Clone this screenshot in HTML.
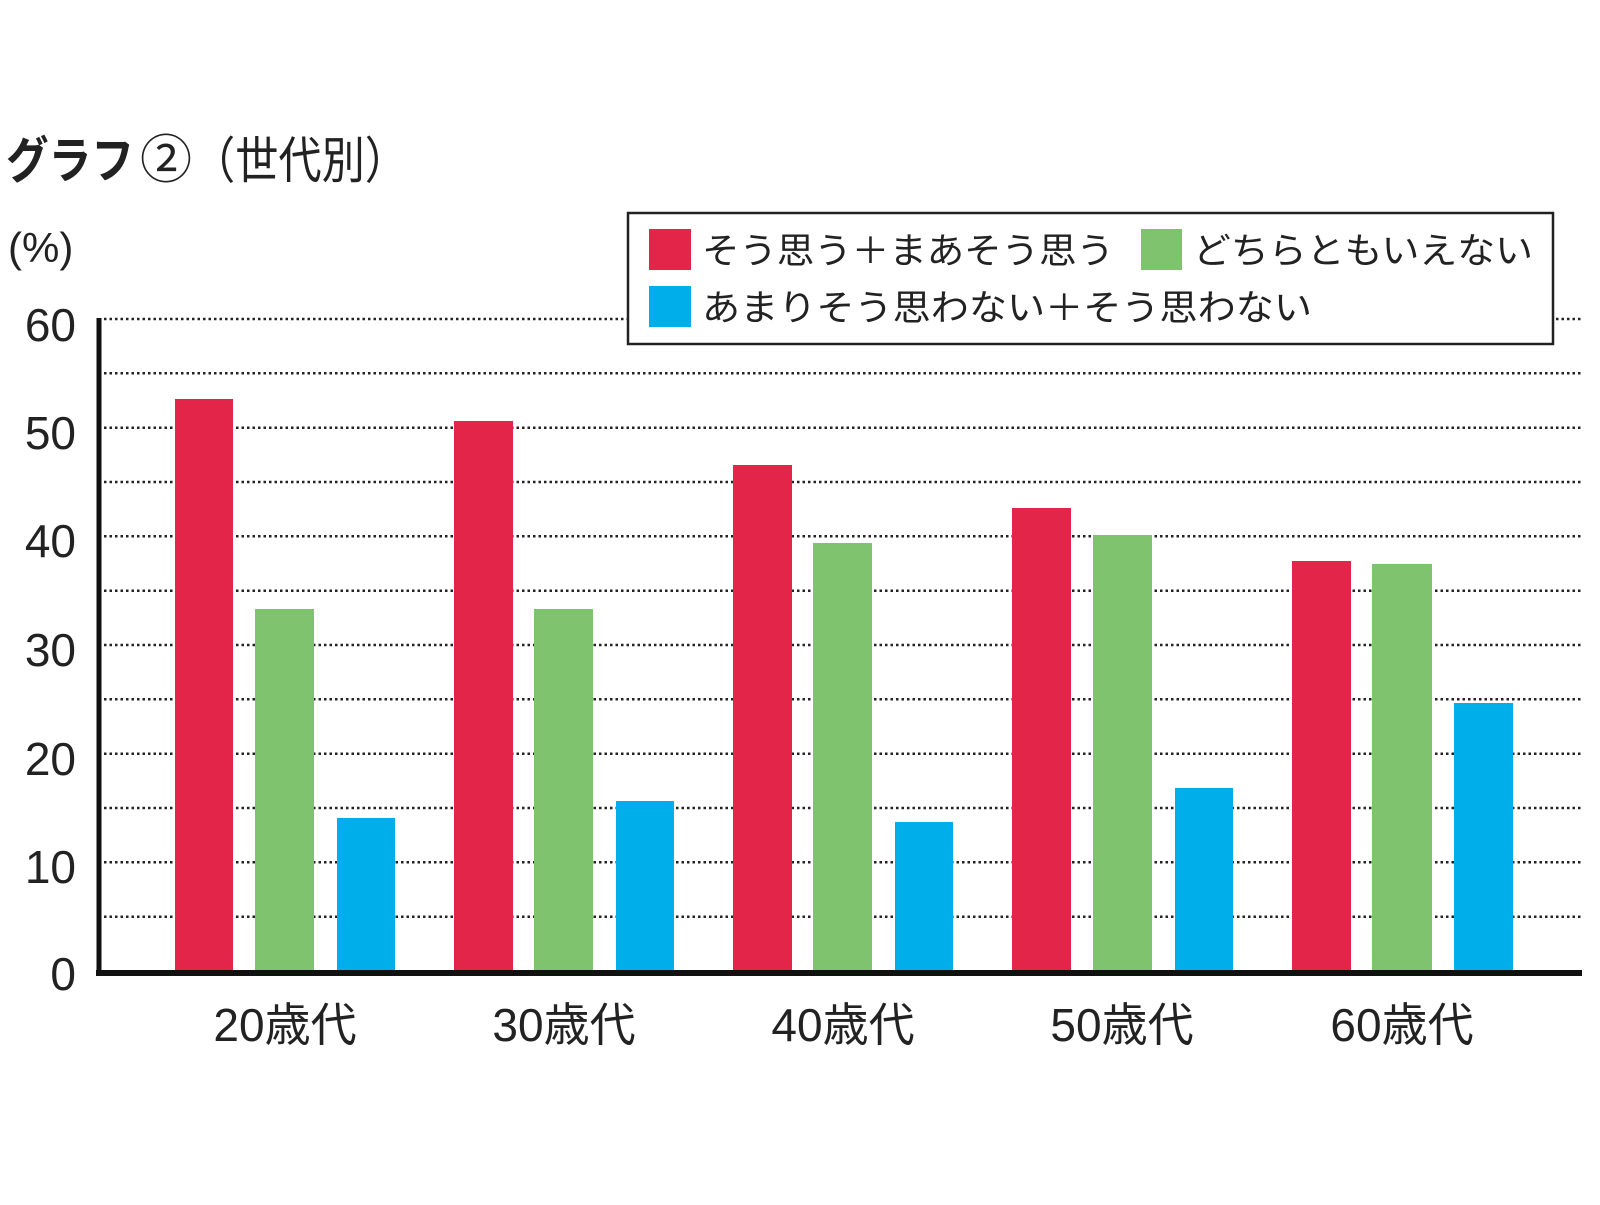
<!DOCTYPE html>
<html><head><meta charset="utf-8"><style>
body{margin:0;background:#fff;width:1600px;height:1200px;overflow:hidden}
text{font-family:"Liberation Sans","Noto Sans CJK JP",sans-serif;fill:#222}
</style></head><body>
<svg width="1600" height="1200" xmlns="http://www.w3.org/2000/svg">
<text x="6" y="178" font-size="50" font-weight="bold" textLength="128" lengthAdjust="spacingAndGlyphs" style="font-family:'Noto Sans CJK JP',sans-serif">グラフ</text>
<text x="140" y="178" font-size="52" style="font-family:'Noto Sans CJK JP',sans-serif">②</text>
<text x="192" y="178" font-size="50" textLength="216" lengthAdjust="spacingAndGlyphs" style="font-family:'Noto Sans CJK JP',sans-serif">（世代別）</text>
<text x="8" y="262" font-size="42">(%)</text>
<g stroke="#222" stroke-width="2.5" stroke-dasharray="2.5 3">
<line x1="104" x2="1582" y1="319" y2="319"/>
<line x1="104" x2="1582" y1="373.3" y2="373.3"/>
<line x1="104" x2="1582" y1="427.7" y2="427.7"/>
<line x1="104" x2="1582" y1="482" y2="482"/>
<line x1="104" x2="1582" y1="536.3" y2="536.3"/>
<line x1="104" x2="1582" y1="590.7" y2="590.7"/>
<line x1="104" x2="1582" y1="645" y2="645"/>
<line x1="104" x2="1582" y1="699.3" y2="699.3"/>
<line x1="104" x2="1582" y1="753.7" y2="753.7"/>
<line x1="104" x2="1582" y1="808" y2="808"/>
<line x1="104" x2="1582" y1="862.3" y2="862.3"/>
<line x1="104" x2="1582" y1="916.7" y2="916.7"/>
</g>
<g font-size="46" text-anchor="end">
<text x="76" y="341">60</text><text x="76" y="449">50</text><text x="76" y="557">40</text>
<text x="76" y="666">30</text><text x="76" y="775">20</text><text x="76" y="883">10</text><text x="76" y="990">0</text>
</g>
<g>
<rect x="175" y="399" width="58" height="572" fill="#e3254a"/>
<rect x="255" y="609" width="59" height="362" fill="#80c36e"/>
<rect x="337" y="818" width="58" height="153" fill="#00aeea"/>
<rect x="454" y="421" width="59" height="550" fill="#e3254a"/>
<rect x="534" y="609" width="59" height="362" fill="#80c36e"/>
<rect x="616" y="801" width="58" height="170" fill="#00aeea"/>
<rect x="733" y="465" width="59" height="506" fill="#e3254a"/>
<rect x="813" y="543" width="59" height="428" fill="#80c36e"/>
<rect x="895" y="822" width="58" height="149" fill="#00aeea"/>
<rect x="1012" y="508" width="59" height="463" fill="#e3254a"/>
<rect x="1093" y="535" width="59" height="436" fill="#80c36e"/>
<rect x="1175" y="788" width="58" height="183" fill="#00aeea"/>
<rect x="1292" y="561" width="59" height="410" fill="#e3254a"/>
<rect x="1372" y="564" width="60" height="407" fill="#80c36e"/>
<rect x="1454" y="703" width="59" height="268" fill="#00aeea"/>
</g>
<line x1="99" x2="99" y1="318" y2="975" stroke="#111" stroke-width="5"/>
<line x1="96" x2="1582" y1="973" y2="973" stroke="#111" stroke-width="6"/>
<g font-size="46" text-anchor="middle">
<text x="285" y="1041">20歳代</text><text x="564" y="1041">30歳代</text><text x="843" y="1041">40歳代</text>
<text x="1122" y="1041">50歳代</text><text x="1402" y="1041">60歳代</text>
</g>
<rect x="628" y="213" width="925" height="131" fill="#fff" stroke="#222" stroke-width="2.5"/>
<rect x="649" y="229" width="42" height="41" fill="#e3254a"/>
<rect x="1141" y="229" width="41" height="41" fill="#80c36e"/>
<rect x="649" y="286" width="42" height="41" fill="#00aeea"/>
<g font-size="36">
<text x="702" y="263" textLength="412" lengthAdjust="spacingAndGlyphs">そう思う＋まあそう思う</text>
<text x="1193" y="263" textLength="340" lengthAdjust="spacingAndGlyphs">どちらともいえない</text>
<text x="702" y="320" textLength="610" lengthAdjust="spacingAndGlyphs">あまりそう思わない＋そう思わない</text>
</g>
</svg>
</body></html>
